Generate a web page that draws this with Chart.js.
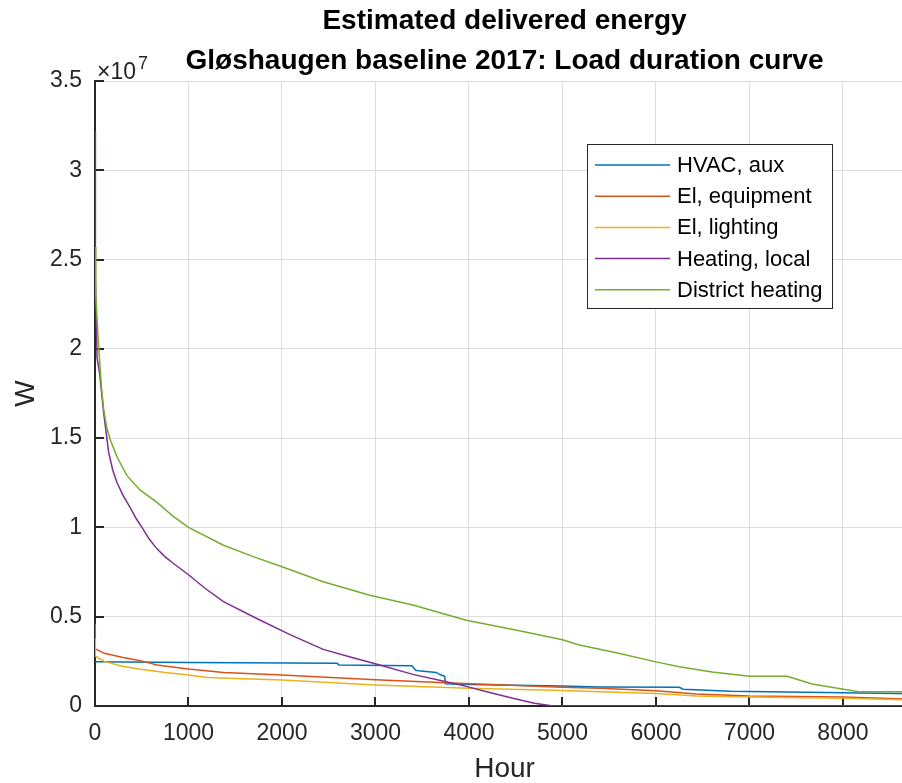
<!DOCTYPE html>
<html>
<head>
<meta charset="utf-8">
<title>Load duration curve</title>
<script src="https://cdn.jsdelivr.net/npm/chart.js@4"></script>
<style>
  html, body { margin: 0; padding: 0; background: #fff; overflow: hidden; }
  #wrap { width: 902px; height: 783px; overflow: hidden; }
  #ldc { display: block; }
</style>
</head>
<body>
<div id="wrap"><canvas id="ldc" width="1009" height="783" style="width:1009px;height:783px"></canvas></div>
<script>
// series (hours sorted by load, watts)
const seriesLabels = ['HVAC, aux', 'El, equipment', 'El, lighting', 'Heating, local', 'District heating'];
const seriesColors = ['#0072BD', '#D95319', '#EDB120', '#7E2F8E', '#77AC30'];

const hvacHours = [0, 1000, 2590, 2610, 3390, 3430, 3460, 3650, 3690, 3740, 3750, 4000, 5000, 5400, 6250, 6290, 6800, 8000, 8760];
const hvacW = [2.48e6, 2.43e6, 2.39e6, 2.30e6, 2.25e6, 2.00e6, 1.98e6, 1.88e6, 1.76e6, 1.66e6, 1.24e6, 1.20e6, 1.12e6, 1.07e6, 1.05e6, 0.94e6, 0.82e6, 0.74e6, 0.69e6];

const equipHours = [0, 3, 100, 300, 485, 663, 1000, 1374, 2000, 3000, 3750, 5000, 5400, 6000, 6430, 7000, 8000, 8760];
const equipW = [4.6e6, 3.2e6, 2.95e6, 2.72e6, 2.54e6, 2.30e6, 2.07e6, 1.88e6, 1.74e6, 1.47e6, 1.30e6, 1.05e6, 1.00e6, 0.86e6, 0.67e6, 0.56e6, 0.50e6, 0.38e6];

const lightHours = [0, 3, 100, 280, 485, 750, 1000, 1200, 2000, 3000, 4000, 5000, 5400, 6000, 6430, 7000, 8000, 8760];
const lightW = [3.8e6, 2.8e6, 2.5e6, 2.24e6, 2.06e6, 1.88e6, 1.74e6, 1.60e6, 1.46e6, 1.18e6, 1.00e6, 0.87e6, 0.80e6, 0.70e6, 0.56e6, 0.50e6, 0.43e6, 0.33e6];

const heatHours = [0, 4, 22, 50, 93, 146, 190, 236, 300, 378, 440, 502, 580, 663, 750, 840, 1000, 1180, 1374, 1730, 2085, 2441, 2750, 3046, 3400, 3757, 3971, 4200, 4469, 4700, 4900, 8760];
const heatW = [32.2e6, 24e6, 19.5e6, 18.6e6, 16.4e6, 14.2e6, 13.2e6, 12.5e6, 11.8e6, 11.1e6, 10.5e6, 10.0e6, 9.35e6, 8.8e6, 8.35e6, 7.98e6, 7.35e6, 6.58e6, 5.84e6, 4.9e6, 4.0e6, 3.17e6, 2.72e6, 2.3e6, 1.77e6, 1.36e6, 1.1e6, 0.78e6, 0.43e6, 0.16e6, 0, 0];

const districtHours = [0, 8, 40, 70, 93, 125, 164, 240, 342, 480, 663, 830, 1000, 1374, 1700, 2000, 2441, 2939, 3400, 3971, 4500, 5000, 5180, 5600, 6000, 6248, 6600, 7000, 7404, 7670, 7991, 8169, 8760];
const districtW = [25.7e6, 23e6, 20.0e6, 17.8e6, 16.6e6, 15.6e6, 14.9e6, 13.9e6, 12.9e6, 12.1e6, 11.4e6, 10.65e6, 10.0e6, 9.0e6, 8.35e6, 7.8e6, 6.96e6, 6.2e6, 5.66e6, 4.8e6, 4.25e6, 3.71e6, 3.42e6, 2.95e6, 2.47e6, 2.2e6, 1.9e6, 1.66e6, 1.66e6, 1.23e6, 0.95e6, 0.8e6, 0.8e6];

const titleLines = ['Estimated delivered energy', 'Gløshaugen baseline 2017: Load duration curve'];
const xTitle = 'Hour';
const yTitle = 'W';
const hourTicks = [0, 1000, 2000, 3000, 4000, 5000, 6000, 7000, 8000];
const hourMax = 8760;
const wattMax = 3.5e7, wattStep = 0.5e7;

const FONT = '"Liberation Sans", Arial, Helvetica, sans-serif';
const INK = '#262626';

const pairs = (xs, ys) => xs.map((x, i) => ({ x, y: ys[i] }));
const allSeries = [[hvacHours, hvacW], [equipHours, equipW], [lightHours, lightW], [heatHours, heatW], [districtHours, districtW]];

// inward tick marks like MATLAB, drawn under the data
const matlabTicks = {
  id: 'matlabTicks',
  beforeDatasetsDraw(chart) {
    const { ctx, chartArea: a, scales: { x, y } } = chart;
    ctx.save();
    ctx.strokeStyle = INK;
    ctx.lineWidth = 2;
    ctx.beginPath();
    x.ticks.forEach((t) => { const px = Math.round(x.getPixelForValue(t.value)); ctx.moveTo(px, a.bottom); ctx.lineTo(px, a.bottom - 9); });
    y.ticks.forEach((t) => { const py = Math.round(y.getPixelForValue(t.value)); ctx.moveTo(a.left, py); ctx.lineTo(a.left + 9, py); });
    ctx.stroke();
    ctx.restore();
  },
};

// title, exponent label and boxed legend
const matlabDecor = {
  id: 'matlabDecor',
  afterDraw(chart) {
    const { ctx, chartArea: a } = chart;
    const cx = (a.left + a.right) / 2;
    ctx.save();
    ctx.fillStyle = '#000';
    ctx.textAlign = 'center';
    ctx.textBaseline = 'middle';
    ctx.font = `bold 28px ${FONT}`;
    titleLines.forEach((line, i) => ctx.fillText(line, cx, 21 + i * 40));

    ctx.fillStyle = INK;
    ctx.textAlign = 'left';
    ctx.textBaseline = 'alphabetic';
    ctx.font = `23px ${FONT}`;
    ctx.fillText('×10', a.left + 2, 79);
    const w = ctx.measureText('×10').width;
    ctx.font = `18px ${FONT}`;
    ctx.fillText('7', a.left + 4 + w, 69);

    const bx = 587.5, by = 144.5, bw = 245, bh = 164;
    ctx.fillStyle = '#fff';
    ctx.fillRect(bx, by, bw, bh);
    ctx.strokeStyle = INK;
    ctx.lineWidth = 1;
    ctx.strokeRect(bx, by, bw, bh);
    ctx.font = `22px ${FONT}`;
    ctx.textBaseline = 'middle';
    seriesLabels.forEach((label, i) => {
      const ry = 165 + i * 31.2;
      ctx.strokeStyle = seriesColors[i];
      ctx.lineWidth = 1.5;
      ctx.beginPath();
      ctx.moveTo(595, ry);
      ctx.lineTo(670, ry);
      ctx.stroke();
      ctx.fillStyle = '#000';
      ctx.fillText(label, 677, ry + 1);
    });
    ctx.restore();
  },
};

new Chart(document.getElementById('ldc'), {
  type: 'line',
  data: {
    datasets: allSeries.map(([xs, ys], i) => ({
      label: seriesLabels[i],
      data: pairs(xs, ys),
      borderColor: seriesColors[i],
      backgroundColor: seriesColors[i],
      borderWidth: 1.5,
      pointRadius: 0,
      tension: 0,
      order: allSeries.length - i,
    })),
  },
  options: {
    responsive: false,
    animation: false,
    layout: { padding: { top: 81, left: 0, right: 95, bottom: 0 } },
    plugins: { legend: { display: false }, tooltip: { enabled: false }, title: { display: false } },
    scales: {
      x: {
        type: 'linear',
        min: 0,
        max: hourMax,
        afterBuildTicks: (s) => { s.ticks = hourTicks.map((v) => ({ value: v })); },
        afterFit: (s) => { s.height = 77; },
        border: { display: true, color: INK, width: 2 },
        grid: { color: '#dedede', lineWidth: 1, drawTicks: false },
        ticks: { padding: 14, color: INK, font: { family: FONT, size: 23 }, maxRotation: 0, autoSkip: false, callback: (v) => String(v) },
        title: { display: true, text: xTitle, color: INK, font: { family: FONT, size: 28, lineHeight: 1 }, padding: 0 },
      },
      y: {
        min: 0,
        max: wattMax,
        afterFit: (s) => { s.width = 95; },
        border: { display: true, color: INK, width: 2 },
        grid: { color: '#dedede', lineWidth: 1, drawTicks: false },
        ticks: { stepSize: wattStep, padding: 13, color: INK, font: { family: FONT, size: 23 }, callback: (v) => String(v / 1e7) },
        title: { display: true, text: yTitle, color: INK, font: { family: FONT, size: 28, lineHeight: 1 }, padding: { top: 12, bottom: 0 } },
      },
    },
  },
  plugins: [matlabTicks, matlabDecor],
});
</script>
</body>
</html>
